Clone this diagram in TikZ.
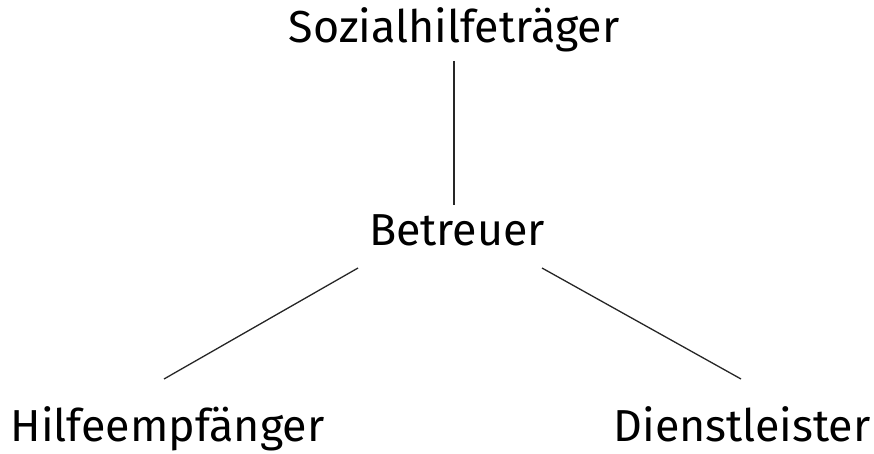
\documentclass[tikz,border=0pt]{standalone}
\usepackage{fontspec}
\setmainfont{Fira Sans}
\usetikzlibrary{calc}
\begin{document}
\begin{tikzpicture}[x=1pt,y=1pt,
  label/.style={anchor=base,inner sep=0pt,font=\fontsize{44.8}{52}\selectfont},
  link/.style={line width=1.3pt,black!85}]
\useasboundingbox (0,0) rectangle (874,453);
% role names
\node[label] (soz) at (454,410) {Sozialhilfeträger};
\node[label] (bet) at (457,208) {Betreuer};
\node[label] (hil) at (167.5,12) {Hilfeempfänger};
\node[label] (dis) at (742,12) {Dienstleister};
% connector ends, just clear of the labels
\coordinate (soz-b) at ($(soz.base)+(0,-18)$);
\coordinate (bet-t) at ($(bet.base)+(-3,40)$);
\coordinate (bet-l) at ($(bet.base)+(-99,-23)$);
\coordinate (bet-r) at ($(bet.base)+(85,-23)$);
\coordinate (hil-t) at ($(hil.base)+(-3.5,62)$);
\coordinate (dis-t) at ($(dis.base)+(-1,62)$);
% connectors
\draw[link] (soz-b) -- (bet-t);
\draw[link] (bet-l) -- (hil-t);
\draw[link] (bet-r) -- (dis-t);
\end{tikzpicture}
\end{document}
